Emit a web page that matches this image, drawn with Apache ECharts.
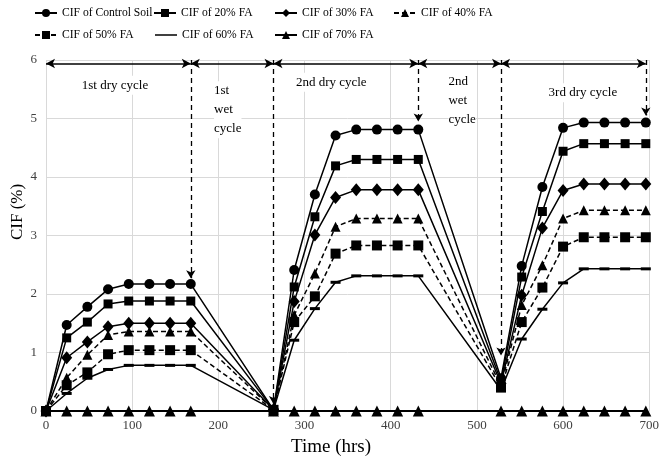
<!DOCTYPE html>
<html>
<head>
<meta charset="utf-8">
<script src="https://cdn.jsdelivr.net/npm/echarts@6/dist/echarts.min.js"></script>
<style>
html,body{margin:0;padding:0;background:#fff;}
#chart{width:662px;height:466px;}
</style>
</head>
<body>
<div id="chart"></div>
<script>
// ---- data ----
const hours = [0,24,48,72,96,120,144,168, 264,288,312,336,360,384,408,432, 528,552,576,600,624,648,672,696];
const controlSoil = [0,1.47,1.78,2.08,2.17,2.17,2.17,2.17, 0.02,2.41,3.70,4.71,4.81,4.81,4.81,4.81, 0.56,2.48,3.83,4.84,4.93,4.93,4.93,4.93];
const fa20 = [0,1.25,1.52,1.83,1.88,1.88,1.88,1.88, 0.02,2.12,3.32,4.19,4.30,4.30,4.30,4.30, 0.51,2.29,3.41,4.44,4.57,4.57,4.57,4.57];
const fa30 = [0,0.91,1.18,1.44,1.50,1.50,1.50,1.50, 0.02,1.87,3.01,3.65,3.78,3.78,3.78,3.78, 0.47,1.98,3.13,3.77,3.88,3.88,3.88,3.88];
const fa40 = [0,0.57,0.96,1.30,1.36,1.36,1.36,1.36, 0.02,1.64,2.35,3.15,3.29,3.29,3.29,3.29, 0.43,1.81,2.49,3.29,3.43,3.43,3.43,3.43];
const fa50 = [0,0.44,0.66,0.97,1.04,1.04,1.04,1.04, 0.02,1.52,1.96,2.69,2.83,2.83,2.83,2.83, 0.40,1.52,2.11,2.81,2.97,2.97,2.97,2.97];
const fa60 = [0,0.30,0.56,0.71,0.78,0.78,0.78,0.78, 0.02,1.21,1.75,2.20,2.31,2.31,2.31,2.31, 0.36,1.23,1.74,2.19,2.43,2.43,2.43,2.43];
const fa70 = [0,0,0,0,0,0,0,0, 0,0,0,0,0,0,0,0, 0,0,0,0,0,0,0,0];
const seriesNames = ['CIF of Control Soil','CIF of 20% FA','CIF of 30% FA','CIF of 40% FA','CIF of 50% FA','CIF of 60% FA','CIF of 70% FA'];
const xTicks = [0,100,200,300,400,500,600,700];
const yTicks = [0,1,2,3,4,5,6];
// annotations (data space)
const cycleBounds = [0,168,264,432,528,696];
const arrowLevel = 5.94;
const dropTips = [2.27, 0.12, 4.95, 0.95, 5.05];
const cycleLabels = ['1st dry cycle','1st\nwet\ncycle','2nd dry cycle','2nd\nwet\ncycle','3rd dry cycle'];
</script>
<script>
const FONT = '"Liberation Serif", "Times New Roman", serif';
const pair = arr => hours.map((h,i)=>[h, arr[i]]);
const styles = [
  {data: controlSoil, symbol:'circle', size:10, dash:'solid'},
  {data: fa20, symbol:'rect', size:9, dash:'solid'},
  {data: fa30, symbol:'diamond', size:[11,13], dash:'solid'},
  {data: fa40, symbol:'triangle', size:10, dash:[5,3]},
  {data: fa50, symbol:'rect', size:10, dash:[5,3]},
  {data: fa60, symbol:'rect', size:[10,3], dash:'solid'},
  {data: fa70, symbol:'triangle', size:11, dash:'solid'}
];
const series = styles.map((s,i)=>({
  name: seriesNames[i],
  type:'line',
  data: pair(s.data),
  symbol: s.symbol,
  symbolSize: s.size,
  showAllSymbol: true,
  color:'#000',
  itemStyle:{color:'#000'},
  lineStyle:{color:'#000', width: i===6 ? 2 : 1.5, type: s.dash},
  z: 10 - i,
  animation:false
}));

// annotation helper
const mlData = [];
for (let i=0;i<cycleBounds.length-1;i++){
  mlData.push([
    {coord:[cycleBounds[i], arrowLevel], symbol:'arrow', symbolSize:[7,9]},
    {coord:[cycleBounds[i+1], arrowLevel], symbol:'arrow', symbolSize:[7,9]}
  ]);
}
for (let i=1;i<cycleBounds.length;i++){
  mlData.push([
    {coord:[cycleBounds[i], 6], symbol:'none', lineStyle:{type:[5,4], width:1.3, color:'#000'}},
    {coord:[cycleBounds[i], dropTips[i-1]], symbol:'arrow', symbolSize:[7,8]}
  ]);
}
const labelLayout = [[80,5.57,'center'],[195,5.15,'left'],[331,5.62,'center'],[467,5.30,'left'],[623,5.44,'center']];
const mpData = cycleLabels.map((t,i)=>({
  coord:[labelLayout[i][0], labelLayout[i][1]],
  symbol:'circle', symbolSize:0,
  label:{show:true, formatter:t, position:'inside', align:labelLayout[i][2], verticalAlign:'middle',
    color:'#000', fontFamily:FONT, fontSize:13, lineHeight:19, backgroundColor:'#fff'}
}));
series.push({
  name:'_ann', type:'line', data:[], silent:true, animation:false,
  markLine:{silent:true, animation:false, symbol:['arrow','arrow'], label:{show:false},
    lineStyle:{color:'#000', width:1.5, type:'solid'}, data: mlData, z:20},
  markPoint:{silent:true, animation:false, data: mpData}
});

const legendPos = [[34,7],[153,7],[274,7],[393,7],[34,29],[155,29],[274,29]];
const legends = seriesNames.map((n,i)=>({
  data:[i===5 ? {name:n, icon:'path://M0,0h44v3h-44z'} : n],
  left: legendPos[i][0], top: legendPos[i][1],
  itemWidth:22, itemHeight:10, itemGap:0, padding:0,
  textStyle:{fontFamily:FONT, fontSize:11.6, color:'#000'},
  selectedMode:false
}));

const chart = echarts.init(document.getElementById('chart'), null, {renderer:'canvas'});
chart.setOption({
  animation:false,
  backgroundColor:'#fff',
  legend: legends,
  grid:{left:46, right:10, top:60, bottom:55, containLabel:false},
  xAxis:{
    type:'value', min:xTicks[0], max:xTicks[xTicks.length-1], interval:100,
    axisLine:{show:true, lineStyle:{color:'#d9d9d9'}},
    axisTick:{show:false},
    axisLabel:{fontFamily:FONT, fontSize:13, color:'#404040', margin:8},
    splitLine:{show:true, lineStyle:{color:'#d9d9d9', width:1}}
  },
  yAxis:{
    type:'value', min:yTicks[0], max:yTicks[yTicks.length-1], interval:1,
    axisLine:{show:false}, axisTick:{show:false},
    axisLabel:{fontFamily:FONT, fontSize:13, color:'#404040', margin:9},
    splitLine:{show:true, lineStyle:{color:'#d9d9d9', width:1}}
  },
  graphic:[
    {type:'text', left:'center', top:438, style:{text:'Time (hrs)', fontFamily:FONT, fontSize:19, fill:'#000'}},
    {type:'text', x:9, y:240, rotation:Math.PI/2, style:{text:'CIF (%)', fontFamily:FONT, fontSize:17, fill:'#000', textAlign:'left', textVerticalAlign:'top'}}
  ],
  series: series
});
</script>
</body>
</html>
